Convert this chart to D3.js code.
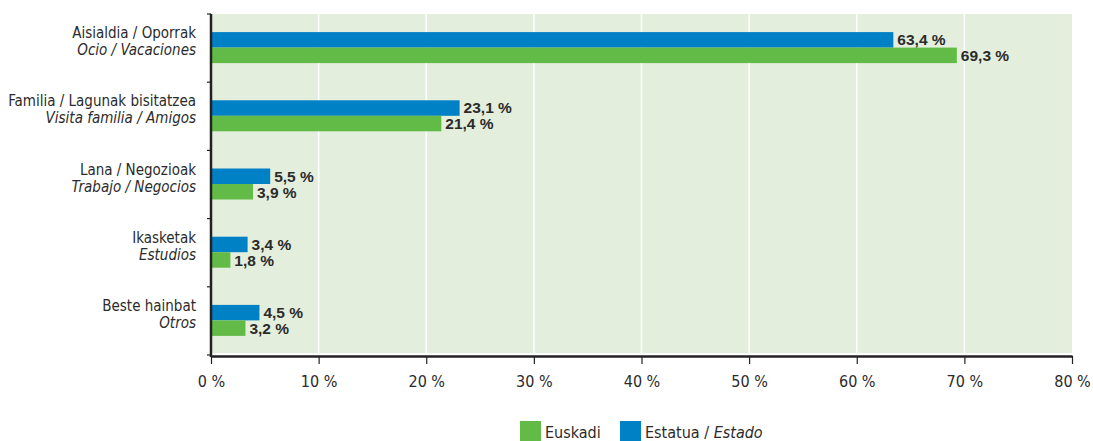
<!DOCTYPE html>
<html>
<head>
<meta charset="utf-8">
<script src="https://cdn.jsdelivr.net/npm/d3@7"></script>
<style>
  body { margin: 0; background: #fff; }
  svg { display: block; }
  .cond { font-family: "Liberation Sans Narrow", "DejaVu Sans Condensed", sans-serif; fill: #2b2b2b; }
  .val { font-family: "Liberation Sans", Arial, sans-serif; font-weight: bold; font-size: 15.5px; fill: #2b2b2b; }
</style>
</head>
<body>
<div id="vis"></div>
<script>
// categories (basque / spanish)
const catEu = ['Aisialdia / Oporrak', 'Familia / Lagunak bisitatzea', 'Lana / Negozioak', 'Ikasketak', 'Beste hainbat'];
const catEs = ['Ocio / Vacaciones', 'Visita familia / Amigos', 'Trabajo / Negocios', 'Estudios', 'Otros'];

// series values, %
const estado = [63.4, 23.1, 5.5, 3.4, 4.5];
const euskadi = [69.3, 21.4, 3.9, 1.8, 3.2];

const xTicks = [0, 10, 20, 30, 40, 50, 60, 70, 80];

const width = 1093, height = 441;
const margin = { top: 14, right: 21, bottom: 86, left: 211 };

const blue = '#0080c5', green = '#62bb47';

const svg = d3.select('#vis').append('svg')
  .attr('width', width)
  .attr('height', height);

const x = d3.scaleLinear().domain([0, 80]).range([margin.left, width - margin.right]);
const y = d3.scaleBand().domain(d3.range(catEu.length))
  .range([margin.top, height - margin.bottom]);

const comma = v => d3.format('.1f')(v).replace('.', ',') + ' %';

// plot background
svg.append('rect')
  .attr('x', x(0)).attr('y', margin.top)
  .attr('width', x(80) - x(0)).attr('height', height - margin.bottom - margin.top - 2)
  .attr('fill', '#e3eedc');

// gridlines
svg.append('g').selectAll('line')
  .data(xTicks.slice(1, -1))
  .join('line')
  .attr('x1', d => x(d)).attr('x2', d => x(d))
  .attr('y1', margin.top).attr('y2', height - margin.bottom)
  .attr('stroke', '#fff').attr('stroke-width', 1.5);

// bars
const barH = 15.5;
const groups = svg.append('g').selectAll('g')
  .data(d3.range(catEu.length))
  .join('g')
  .attr('transform', i => `translate(0,${y(i) + y.bandwidth() / 2})`);

groups.append('rect')
  .attr('x', x(0)).attr('y', -barH - 0.5)
  .attr('width', i => x(estado[i]) - x(0)).attr('height', barH)
  .attr('fill', blue);

groups.append('rect')
  .attr('x', x(0)).attr('y', -0.5)
  .attr('width', i => x(euskadi[i]) - x(0)).attr('height', barH)
  .attr('fill', green);

groups.append('text').attr('class', 'val')
  .attr('x', i => x(estado[i]) + 4).attr('y', -3)
  .text(i => comma(estado[i]));

groups.append('text').attr('class', 'val')
  .attr('x', i => x(euskadi[i]) + 4).attr('y', 13)
  .text(i => comma(euskadi[i]));

// category labels
groups.append('text').attr('class', 'cond')
  .attr('x', 196).attr('y', -10)
  .attr('text-anchor', 'end').style('font-size', '15px')
  .text(i => catEu[i]);

groups.append('text').attr('class', 'cond')
  .attr('x', 196).attr('y', 7)
  .attr('text-anchor', 'end').style('font-size', '15px').style('font-style', 'italic')
  .text(i => catEs[i]);

// y axis (left line + ticks at band edges)
const yAxis = svg.append('g');
yAxis.append('line')
  .attr('x1', x(0)).attr('x2', x(0))
  .attr('y1', margin.top).attr('y2', height - margin.bottom + 2)
  .attr('stroke', '#222').attr('stroke-width', 2.5);
yAxis.selectAll('.tk')
  .data(d3.range(catEu.length + 1))
  .join('line')
  .attr('x1', x(0) - 4).attr('x2', x(0))
  .attr('y1', i => margin.top + i * y.step()).attr('y2', i => margin.top + i * y.step())
  .attr('stroke', '#222').attr('stroke-width', 1.2);

// x axis
const xAxis = svg.append('g')
  .attr('transform', `translate(0,${height - margin.bottom + 1})`)
  .call(d3.axisBottom(x).tickValues(xTicks).tickSize(8).tickSizeOuter(0)
    .tickFormat(d => d + ' %'));
xAxis.select('.domain').attr('stroke', '#222').attr('stroke-width', 2.5);
xAxis.selectAll('.tick line').attr('stroke', '#222').attr('stroke-width', 1.2);
xAxis.selectAll('.tick text')
  .attr('class', 'cond')
  .attr('y', 20)
  .style('font-size', '16px');

// legend
const legend = svg.append('g').attr('transform', 'translate(520,421)');
legend.append('rect').attr('width', 21).attr('height', 21).attr('fill', green);
legend.append('text').attr('class', 'cond').attr('x', 25).attr('y', 17)
  .style('font-size', '16px').text('Euskadi');
legend.append('rect').attr('x', 100).attr('width', 21).attr('height', 21).attr('fill', blue);
const lt = legend.append('text').attr('class', 'cond').attr('x', 125).attr('y', 17)
  .style('font-size', '16px');
lt.append('tspan').text('Estatua / ');
lt.append('tspan').style('font-style', 'italic').text('Estado');
</script>
</body>
</html>
